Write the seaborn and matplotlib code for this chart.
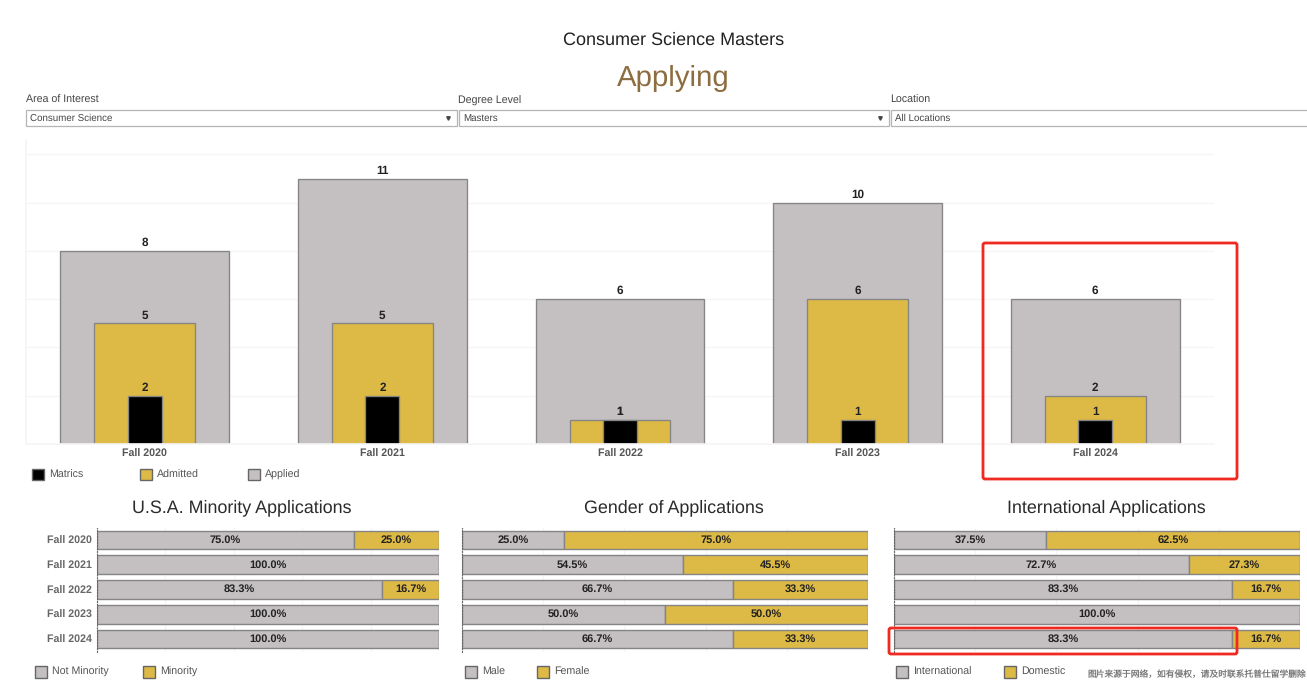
import matplotlib
matplotlib.use("Agg")
import matplotlib.pyplot as plt
from matplotlib.patches import Rectangle, FancyBboxPatch
import seaborn as sns

terms = ["Fall 2020", "Fall 2021", "Fall 2022", "Fall 2023", "Fall 2024"]
applied = [8, 11, 6, 10, 6]
admitted = [5, 5, 1, 6, 2]
matrics = [2, 2, 1, 1, 1]

not_minority = [75.0, 100.0, 83.3, 100.0, 100.0]
minority = [25.0, 0.0, 16.7, 0.0, 0.0]
male = [25.0, 54.5, 66.7, 50.0, 66.7]
female = [75.0, 45.5, 33.3, 50.0, 33.3]
international = [37.5, 72.7, 83.3, 100.0, 83.3]
domestic = [62.5, 27.3, 16.7, 0.0, 16.7]

GRAY = "#C4BFC0"
GOLD = "#DDB945"
EDGE = "#858585"
GRID = "#F5F5F5"
W, H = 1307, 686

sns.set_theme(style="white")
plt.rcParams["font.family"] = ["Liberation Sans", "Noto Sans CJK SC", "DejaVu Sans"]
plt.rcParams["text.hinting"] = "no_hinting"

fig = plt.figure(figsize=(W / 100, H / 100), dpi=100, facecolor="white")


def px_axes(x0, y0, x1, y1, **kw):
    return fig.add_axes([x0 / W, 1 - y1 / H, (x1 - x0) / W, (y1 - y0) / H], **kw)


# Main chart
ax = px_axes(26, 140, 1214, 444)
for vals, col, wid in [(applied, GRAY, 0.711), (admitted, GOLD, 0.425), (matrics, "#000000", 0.143)]:
    sns.barplot(x=terms, y=vals, color=col, width=wid, saturation=1, edgecolor=EDGE,
                linewidth=0.95, ax=ax, zorder=2)
    ax.bar_label(ax.containers[-1], fmt="%d", padding=1.8, fontsize=8.5, fontweight="bold",
                 color="#222222", zorder=5)
ax.set_xlim(-0.5, 4.5)
ax.set_ylim(0, 12.6)
ax.set_yticks(range(0, 13, 2))
ax.set_yticklabels([])
ax.yaxis.grid(True, color=GRID, linewidth=1)
ax.set_axisbelow(True)
ax.tick_params(axis="x", length=0, pad=3.5, labelsize=7.7, labelcolor="#555555")
ax.tick_params(axis="y", length=0)
for t in ax.get_xticklabels():
    t.set_fontweight("bold")
for s in ["top", "right"]:
    ax.spines[s].set_visible(False)
ax.spines["left"].set_color(GRID)
ax.spines["bottom"].set_color(GRID)
ax.set_xlabel("")
ax.set_ylabel("")


def stacked(x0, x1, first, second, show_labels):
    a = px_axes(x0, 527.5, x1, 651.5)
    c1 = sns.barplot(x=first, y=terms, orient="y", color=GRAY, width=0.75, saturation=1,
                     edgecolor=EDGE, linewidth=1.0, ax=a, zorder=2).containers[-1]
    c2 = sns.barplot(x=second, y=terms, orient="y", color=GOLD, width=0.75, saturation=1,
                     edgecolor=EDGE, linewidth=1.0, left=first, ax=a, zorder=2).containers[-1]
    for c, vals in [(c1, first), (c2, second)]:
        a.bar_label(c, labels=[f"{v:.1f}%" if v > 0 else "" for v in vals], label_type="center",
                    fontsize=7.9, fontweight="bold", color="#222222", zorder=5)
    a.set_xlim(0, 100)
    a.set_ylim(4.5, -0.5)
    a.set_xticks(range(0, 101, 20))
    a.set_xticklabels([])
    a.xaxis.grid(True, color=GRID, linewidth=1)
    a.set_axisbelow(True)
    a.tick_params(axis="x", length=0)
    a.tick_params(axis="y", length=0, pad=4, labelsize=7.7, labelcolor="#666666", labelleft=show_labels)
    for t in a.get_yticklabels():
        t.set_fontweight("bold")
    for s in ["top", "right", "bottom"]:
        a.spines[s].set_visible(False)
    a.spines["left"].set_linestyle(":")
    a.spines["left"].set_color("#666666")
    a.spines["left"].set_linewidth(0.8)
    a.set_xlabel("")
    a.set_ylabel("")
    return a


stacked(97, 439, not_minority, minority, True)
stacked(462, 868, male, female, False)
stacked(894, 1300, international, domestic, False)

# Overlay in pixel coordinates for page furniture
ov = px_axes(0, 0, W, H, zorder=10)
ov.set_xlim(0, W)
ov.set_ylim(H, 0)
ov.axis("off")
ov.patch.set_alpha(0)

ov.text(673.5, 40, "Consumer Science Masters", ha="center", va="center", fontsize=13, color="#222222")
ov.text(673, 78, "Applying", ha="center", va="center", fontsize=21.2, color="#8C6D3F")

for x0, x1, label, value in [(26, 457, "Area of Interest", "Consumer Science"),
                             (459, 889, "Degree Level", "Masters"),
                             (891, 1312, "Location", "All Locations")]:
    ov.text(x0 - 0.5, 100.5, label, ha="left", va="center", fontsize=7.7, color="#444444")
    ov.add_patch(Rectangle((x0, 110), x1 - x0 - 0.5, 16, facecolor="white", edgecolor="#B5B5B5", linewidth=0.9))
    ov.text(x0 + 4, 118.5, value, ha="left", va="center", fontsize=7, color="#444444")
    if x1 < W:
        ov.plot([x1 - 9], [118], marker="v", markersize=2.5, color="#444444", linestyle="none")


def legend_items(items, y, size, fs):
    for x, col, label, tx in items:
        ov.add_patch(Rectangle((x, y - size / 2), size, size, facecolor=col, edgecolor="#666666", linewidth=1))
        ov.text(tx, y + 0.8, label, ha="left", va="center", fontsize=fs, color="#555555")


legend_items([(32, "#000000", "Matrics", 49), (140, GOLD, "Admitted", 157), (248, GRAY, "Applied", 265)], 474.5, 11.5, 7.7)
legend_items([(35, GRAY, "Not Minority", 52.5), (143, GOLD, "Minority", 160.5)], 671.5, 12, 7.7)
legend_items([(465, GRAY, "Male", 482.5), (537, GOLD, "Female", 554.5)], 671.5, 12, 7.7)
legend_items([(896, GRAY, "International", 913), (1004, GOLD, "Domestic", 1021)], 671.5, 12, 7.7)

for x, t in [(242, "U.S.A. Minority Applications"), (674, "Gender of Applications"), (1106, "International Applications")]:
    ov.text(x, 507.5, t, ha="center", va="center", fontsize=12.9, color="#2B2B2B")

ov.text(1087, 675, "图片来源于网络，如有侵权，请及时联系托普仕留学删除", ha="left", va="center",
        fontsize=6.3, color="#777777")

for x0, y0, x1, y1 in [(983, 243, 1237, 479), (889, 628, 1237, 654)]:
    ov.add_patch(FancyBboxPatch((x0, y0), x1 - x0, y1 - y0, boxstyle="round,pad=0,rounding_size=2",
                                facecolor="none", edgecolor="#F02A20", linewidth=2))

fig.savefig("out.png", dpi=100, facecolor="white")
